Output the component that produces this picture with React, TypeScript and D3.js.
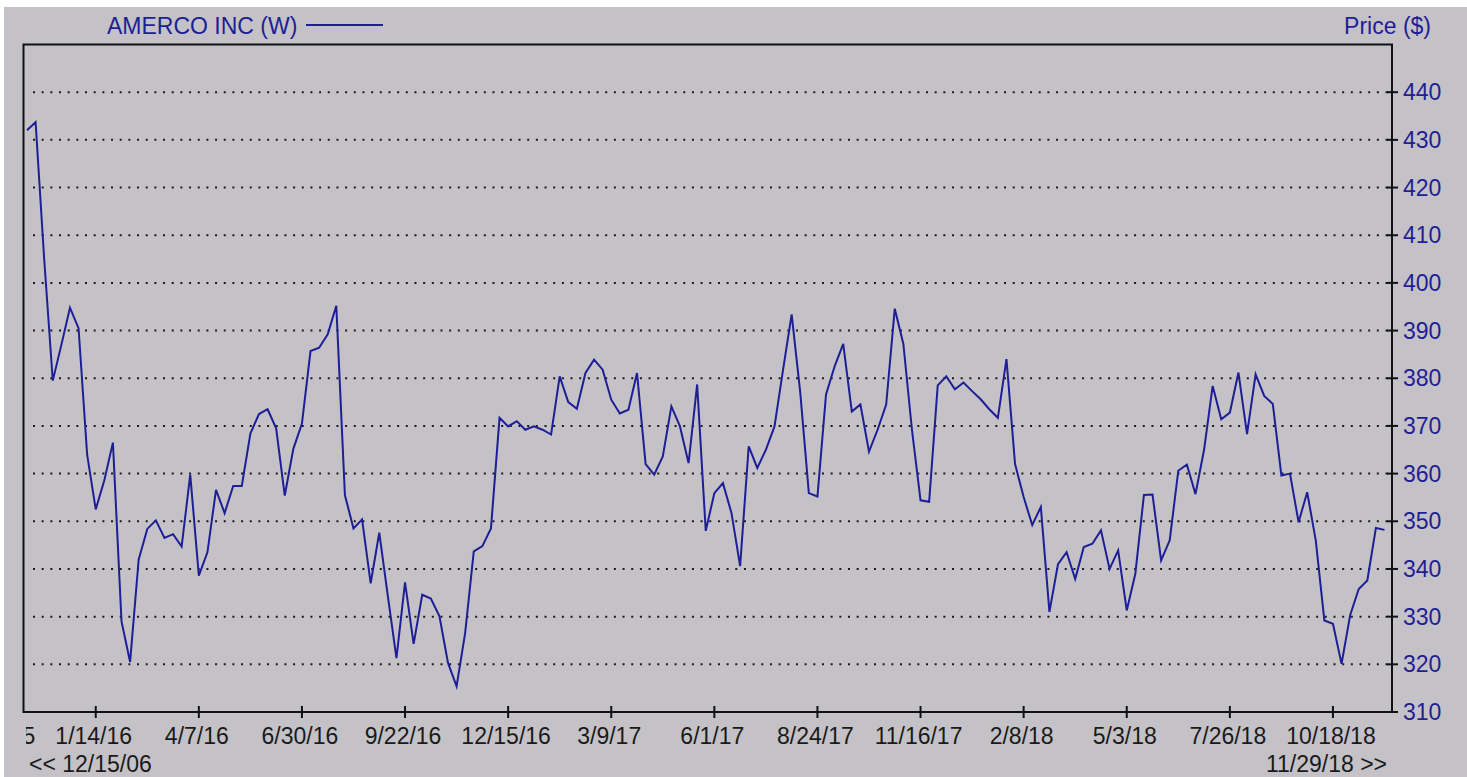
import React from 'react';
import * as d3 from 'd3';

// weekly closes, first week 11/19/15, last week 11/29/18
const firstWeek = '2015-11-19';
const prices = [
  432, 433.7, 405, 379.5, 387, 394.8, 390.5, 364, 352.5, 358.6,
  366.5, 329, 320.5, 342, 348.4, 350.2, 346.5, 347.3, 344.7, 359.8,
  338.6, 343.5, 356.6, 351.7, 357.4, 357.4, 368.4, 372.5, 373.5, 369.5,
  355.4, 365.2, 370.5, 385.7, 386.4, 389.2, 395.2, 355.5, 348.5, 350.4,
  337, 347.6, 334.3, 321.3, 337.2, 324.3, 334.6, 333.8, 330.1, 320.3,
  315.4, 326.6, 343.7, 344.8, 348.5, 371.7, 369.9, 371, 369.2, 369.9,
  369.2, 368.2, 380.4, 375, 373.6, 381.1, 383.9, 381.8, 375.5, 372.6,
  373.4, 381.1, 362, 359.8, 363.6, 374.1, 369.9, 362.2, 378.7, 348,
  355.9, 358, 351.7, 340.6, 365.7, 361.2, 365, 369.9, 381.8, 393.4,
  377, 355.9, 355.2, 376.6, 382.5, 387.2, 373, 374.5, 364.6, 369.2,
  374.5, 394.6, 387.2, 369.2, 354.4, 354.1, 378.5, 380.4, 377.7, 379.1,
  377.3, 375.6, 373.5, 371.7, 384, 362, 355.1, 349.2, 353, 331,
  341, 343.5, 337.9, 344.6, 345.3, 348.1, 340, 343.9, 331.3, 339,
  355.5, 355.6, 341.8, 346, 360.6, 361.9, 355.7, 365, 378.4, 371.4,
  372.8, 381.2, 368.3, 380.8, 376.3, 374.6, 359.6, 360, 349.8, 356.1,
  346, 329.2, 328.5, 320.1, 330.3, 335.8, 337.6, 348.6, 348.2,
];

const xTickLabels = [
  '10/22/15', '1/14/16', '4/7/16', '6/30/16', '9/22/16', '12/15/16', '3/9/17',
  '6/1/17', '8/24/17', '11/16/17', '2/8/18', '5/3/18', '7/26/18', '10/18/18',
];
const yTicks = [310, 320, 330, 340, 350, 360, 370, 380, 390, 400, 410, 420, 430, 440];
const seriesName = 'AMERCO INC (W)';
const axisTitle = 'Price ($)';
const rangeStart = '<< 12/15/06';
const rangeEnd = '11/29/18 >>';

const W = 1467;
const H = 777;
const left = 23.5, right = 1392, top = 44.5, bottom = 712;
const font = '"Liberation Sans", Arial, sans-serif';
const blue = '#1e1e96';
const bg = '#c4c2c6';

const parseMDY = (s: string) => {
  const [m, d, y] = s.split('/').map(Number);
  return new Date(Date.UTC(2000 + y, m - 1, d));
};

export default function App() {
  const t0 = new Date(firstWeek + 'T00:00:00Z').getTime();
  const data = prices.map((v, i) => ({ date: new Date(t0 + i * 7 * 864e5), value: v }));

  const x = d3.scaleUtc()
    .domain([data[0].date, data[data.length - 1].date])
    .range([27, 1384.5]);
  const y = d3.scaleLinear().domain([310, 450]).range([bottom, top]);

  const line = d3.line<{ date: Date; value: number }>()
    .x(d => x(d.date))
    .y(d => y(d.value));

  const ticks = xTickLabels.map(l => ({ label: l, x: x(parseMDY(l)) }));

  return (
    <svg width={W} height={H} style={{ position: 'absolute', left: 0, top: 0 }}>
      <defs>
        <clipPath id="plot">
          <rect x={left + 1} y={top + 1} width={right - left - 2} height={bottom - top - 2} />
        </clipPath>
        {/* the first date label runs off the left side, as in the source */}
        <clipPath id="xlab">
          <rect x={26} y={bottom} width={W} height={H - bottom} />
        </clipPath>
      </defs>
      <rect width={W} height={H} fill="#fff" />
      <rect x={4} y={7} width={W - 4} height={H - 7} fill={bg} />

      {/* legend */}
      <text x={107} y={34} fontFamily={font} fontSize={23} fill={blue}>{seriesName}</text>
      <line x1={306} x2={383} y1={25} y2={25} stroke={blue} strokeWidth={2} />
      <text x={1431} y={34} fontFamily={font} fontSize={23} fill={blue} textAnchor="end">{axisTitle}</text>

      {/* gridlines */}
      {yTicks.filter(v => v > 310).map(v => (
        <line key={v} x1={33} x2={right - 2} y1={y(v)} y2={y(v)}
          stroke="#1a1a1a" strokeWidth={2} strokeDasharray="2 6.67" />
      ))}

      {/* series */}
      <path d={line(data) || ''} fill="none" stroke={blue} strokeWidth={2}
        strokeLinejoin="miter" clipPath="url(#plot)" />

      {/* frame */}
      <rect x={left} y={top} width={right - left} height={bottom - top}
        fill="none" stroke="#111" strokeWidth={2} />

      {/* y axis */}
      {yTicks.map(v => (
        <g key={v}>
          <line x1={v === 310 ? right : right - 5} x2={right + 6} y1={y(v)} y2={y(v)} stroke="#111" strokeWidth={2} />
          <text x={1403} y={y(v) + 8} fontFamily={font} fontSize={23} fill={blue}>{v}</text>
        </g>
      ))}

      {/* x axis */}
      {ticks.filter(t => t.x > left && t.x < right).map(t => (
        <line key={t.label} x1={t.x} x2={t.x} y1={bottom - 6} y2={bottom + 6} stroke="#111" strokeWidth={2} />
      ))}
      <g clipPath="url(#xlab)">
        {ticks.map(t => (
          <text key={t.label} x={t.x - 2} y={744} fontFamily={font} fontSize={23}
            fill="#1a1a1a" textAnchor="middle">{t.label}</text>
        ))}
      </g>
      <text x={29} y={772} fontFamily={font} fontSize={23} fill="#1a1a1a">{rangeStart}</text>
      <text x={1387} y={772} fontFamily={font} fontSize={23} fill="#1a1a1a" textAnchor="end">{rangeEnd}</text>
    </svg>
  );
}
